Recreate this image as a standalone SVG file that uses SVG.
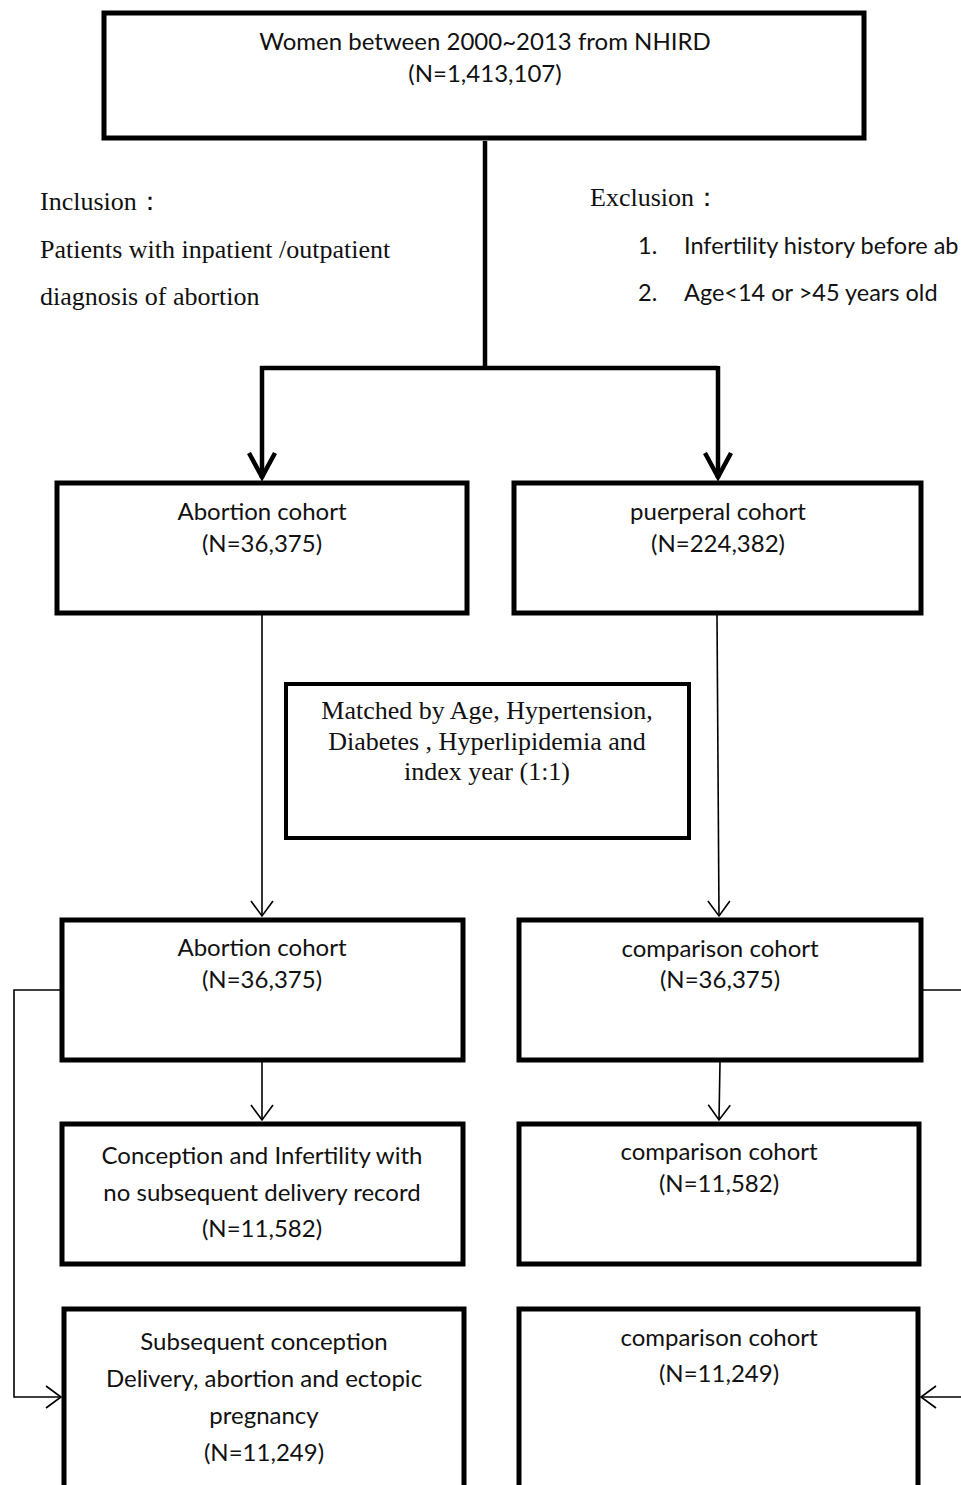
<svg xmlns="http://www.w3.org/2000/svg" width="961" height="1485" viewBox="0 0 961 1485">
<defs>
<style>
.box{fill:#fff;stroke:#000;stroke-width:5}
.mbox{fill:#fff;stroke:#000;stroke-width:4}
.t{font-family:Lato,"Open Sans","Liberation Sans",sans-serif;font-size:24px;fill:#111;text-anchor:middle}
.tl{font-family:Lato,"Open Sans","Liberation Sans",sans-serif;font-size:23.5px;fill:#111}
.s{font-family:"Liberation Serif","Times New Roman",serif;font-size:26px;fill:#111}
.sc{font-family:"Liberation Serif","Times New Roman",serif;font-size:26px;fill:#111;text-anchor:middle}
.thick{fill:none;stroke:#000;stroke-width:4.5}
.thin{fill:none;stroke:#000;stroke-width:1.6}
</style>
<marker id="ah" markerUnits="userSpaceOnUse" markerWidth="40" markerHeight="40" viewBox="-30 -20 40 40" refX="0" refY="0" orient="auto" overflow="visible">
<path d="M-25,-13 L-1,0 L-25,13" fill="none" stroke="#000" stroke-width="4.5"/>
</marker>
<marker id="ao" markerUnits="userSpaceOnUse" markerWidth="30" markerHeight="30" viewBox="-20 -15 30 30" refX="0" refY="0" orient="auto" overflow="visible">
<path d="M-15,-11 L0,0 L-15,11" fill="none" stroke="#000" stroke-width="1.6"/>
</marker>
</defs>

<g id="connectors">
<path class="thick" d="M485,141 V368"/>
<path class="thick" d="M260,368 H718"/>
<path class="thick" d="M262,366 V478" marker-end="url(#ah)"/>
<path class="thick" d="M718,366 V478" marker-end="url(#ah)"/>
<path class="thin" d="M262,615 V916" marker-end="url(#ao)"/>
<path class="thin" d="M717,615 L719,916" marker-end="url(#ao)"/>
<path class="thin" d="M262,1062 V1120" marker-end="url(#ao)"/>
<path class="thin" d="M720,1062 L719,1120" marker-end="url(#ao)"/>
<path class="thin" d="M60,990 H14 V1397 H61" marker-end="url(#ao)"/>
<path class="thin" d="M923,990 H961"/>
<path class="thin" d="M961,1397 H921" marker-end="url(#ao)"/>
</g>

<g id="top">
<rect class="box" x="104" y="13" width="760" height="125"/>
<text class="t" x="485" y="50">Women between 2000~2013 from NHIRD</text>
<text class="t" x="485" y="82">(N=1,413,107)</text>
</g>

<g id="inclusion">
<text class="s" x="40" y="210">Inclusion：</text>
<text class="s" x="40" y="258">Patients with inpatient /outpatient</text>
<text class="s" x="40" y="305">diagnosis of abortion</text>
</g>

<g id="exclusion">
<text class="s" x="590" y="206">Exclusion：</text>
<text class="tl" x="638" y="254">1.</text>
<text class="tl" x="684" y="254">Infertility history before ab</text>
<text class="tl" x="638" y="301">2.</text>
<text class="tl" x="684" y="301">Age&lt;14 or &gt;45 years old</text>
</g>

<g id="abortion1">
<rect class="box" x="57" y="483" width="410" height="130"/>
<text class="t" x="262" y="520">Abortion cohort</text>
<text class="t" x="262" y="552">(N=36,375)</text>
</g>

<g id="puerperal">
<rect class="box" x="514" y="483" width="407" height="130"/>
<text class="t" x="718" y="520">puerperal cohort</text>
<text class="t" x="718" y="552">(N=224,382)</text>
</g>

<g id="matched">
<rect class="mbox" x="286" y="684" width="403" height="154"/>
<text class="sc" x="487" y="719">Matched by Age, Hypertension,</text>
<text class="sc" x="487" y="750">Diabetes , Hyperlipidemia and</text>
<text class="sc" x="487" y="780">index year (1:1)</text>
</g>

<g id="abortion2">
<rect class="box" x="62" y="920" width="401" height="140"/>
<text class="t" x="262" y="956">Abortion cohort</text>
<text class="t" x="262" y="988">(N=36,375)</text>
</g>

<g id="comparison1">
<rect class="box" x="519" y="920" width="402" height="140"/>
<text class="t" x="720" y="957">comparison cohort</text>
<text class="t" x="720" y="988">(N=36,375)</text>
</g>

<g id="conception">
<rect class="box" x="62" y="1124" width="401" height="140"/>
<text class="t" x="262" y="1164">Conception and Infertility with</text>
<text class="t" x="262" y="1201">no subsequent delivery record</text>
<text class="t" x="262" y="1237">(N=11,582)</text>
</g>

<g id="comparison2">
<rect class="box" x="519" y="1124" width="400" height="140"/>
<text class="t" x="719" y="1160">comparison cohort</text>
<text class="t" x="719" y="1192">(N=11,582)</text>
</g>

<g id="subsequent">
<rect class="box" x="64" y="1309" width="400" height="180"/>
<text class="t" x="264" y="1350">Subsequent conception</text>
<text class="t" x="264" y="1387">Delivery, abortion and ectopic</text>
<text class="t" x="264" y="1424">pregnancy</text>
<text class="t" x="264" y="1461">(N=11,249)</text>
</g>

<g id="comparison3">
<rect class="box" x="519" y="1309" width="399" height="180"/>
<text class="t" x="719" y="1346">comparison cohort</text>
<text class="t" x="719" y="1382">(N=11,249)</text>
</g>
</svg>
